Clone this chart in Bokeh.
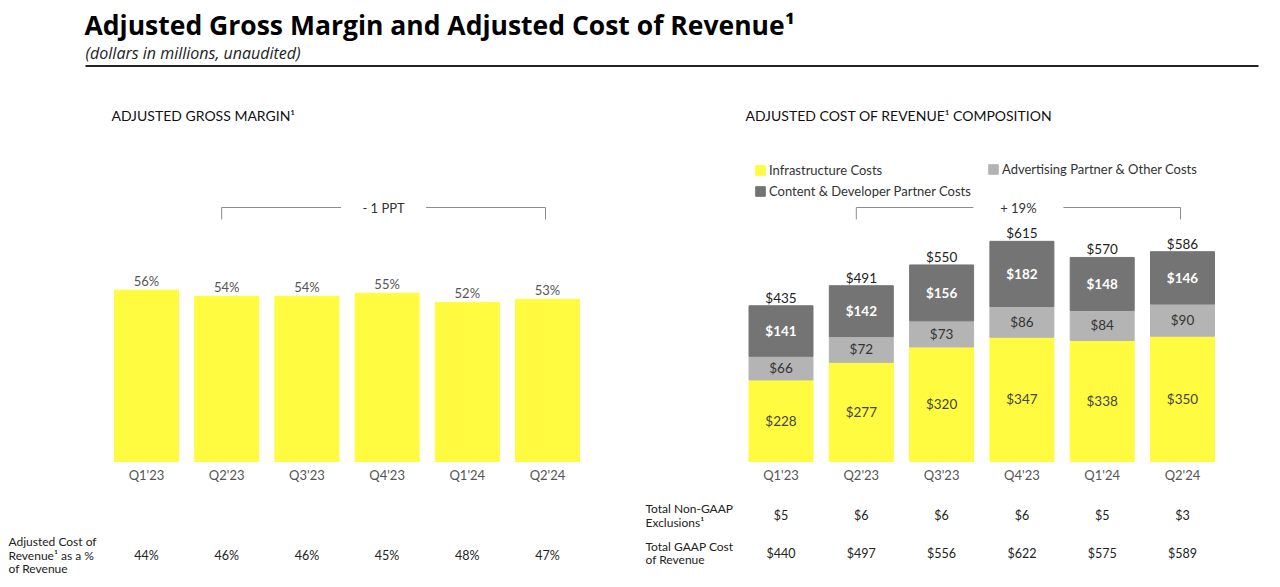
from bokeh.plotting import figure
from bokeh.models import Range1d, Label, Legend, LegendItem, ColumnDataSource
from bokeh.layouts import column, row
from bokeh.embed import file_html
from bokeh.resources import INLINE
from bokeh.core.properties import value

# ---------------- data ----------------
quarters = ["Q1'23", "Q2'23", "Q3'23", "Q4'23", "Q1'24", "Q2'24"]
gross_margin = [56, 54, 54, 55, 52, 53]
cost_pct = [44, 46, 46, 45, 48, 47]
infra = [228, 277, 320, 347, 338, 350]
advertising = [66, 72, 73, 86, 84, 90]
content = [141, 142, 156, 182, 148, 146]
totals = [435, 491, 550, 615, 570, 586]
non_gaap = [5, 6, 6, 6, 5, 3]
gaap_cost = [440, 497, 556, 622, 575, 589]
series_names = ["Infrastructure Costs", "Advertising Partner & Other Costs",
                "Content & Developer Partner Costs"]

# ---------------- style ----------------
FONT = "Lato"
YELLOW = "#FFFB40"
LGREY = "#B4B4B4"
DGREY = "#747474"
H = 517
BASE = 126  # px from panel bottom to bar baseline


def panel(width, c0, step, ppu):
    xs = -c0 / step
    ys = -BASE / ppu
    p = figure(width=width, height=H,
               x_range=Range1d(xs, xs + width / step),
               y_range=Range1d(ys, ys + H / ppu),
               toolbar_location=None, output_backend="svg",
               x_axis_type=None, y_axis_type=None,
               min_border=0, outline_line_color=None)
    p.grid.visible = False
    p.background_fill_color = "white"
    p.border_fill_color = "white"
    return p


def txt(p, x, y, t, size="13px", color="#444", align="center",
        baseline="middle", style="normal"):
    p.text(x=x, y=y, text=t, text_font=value(FONT), text_font_size=size,
           text_color=color, text_align=align, text_baseline=baseline,
           text_font_style=style)


def bracket(p, i0, i1, ppu, step, label, gap_px):
    y = 254 / ppu
    y2 = (254 - 12) / ppu
    xa = i0 - 5 / step
    xb = i1 - 2 / step
    xm = (xa + xb) / 2
    g = gap_px / step
    p.multi_line(xs=[[xa, xa, xm - g], [xm + g, xb, xb]],
                 ys=[[y2, y, y], [y, y, y2]],
                 line_color="#8c8c8c", line_width=1)
    txt(p, [xm], [y], [label], size="13px", color="#333")


def screen_label(p, x, y, text, size="12px", color="#222222", lh=None):
    kw = {}
    if lh is not None:
        kw["text_line_height"] = lh
    p.add_layout(Label(x=x, y=y, x_units="screen", y_units="screen",
                       text=text, text_font=FONT, text_font_size=size,
                       text_color=color, text_baseline="middle", **kw))


# ---------------- top title strip ----------------
top = figure(width=1280, height=70, x_range=Range1d(0, 1280),
             y_range=Range1d(70, 0), toolbar_location=None,
             output_backend="svg", x_axis_type=None, y_axis_type=None,
             min_border=0, outline_line_color=None)
top.grid.visible = False
top.text(x=[84], y=[24],
         text=["Adjusted Gross Margin and Adjusted Cost of Revenue\u00b9"],
         text_font=value("Open Sans"), text_font_size="26.5px",
         text_font_style="bold", text_color="#000000",
         text_baseline="middle")
top.text(x=[85], y=[52], text=["(dollars in millions, unaudited)"],
         text_font=value("Open Sans"), text_font_size="16px",
         text_font_style="italic", text_color="#222222",
         text_baseline="middle")
top.segment(x0=[85], y0=[65.5], x1=[1258], y1=[65.5],
            line_color="#222222", line_width=2)

# ---------------- left panel ----------------
stepL, ppuL = 80.2, 3.06
pL = panel(638, 146, stepL, ppuL)
xL = list(range(len(quarters)))
pL.vbar(x=xL, top=gross_margin, width=64 / stepL, color=YELLOW)
txt(pL, xL, [v + 9.5 / ppuL for v in gross_margin],
    [f"{v}%" for v in gross_margin], color="#555")
txt(pL, xL, [-13 / ppuL] * 6, quarters, color="#555")
bracket(pL, 1, 5, ppuL, stepL, "- 1 PPT", 42.5)
screen_label(pL, 111, 472, "ADJUSTED GROSS MARGIN\u00b9", size="14px",
             color="#111111")
txt(pL, xL, [(-BASE + 32.3) / ppuL] * 6, [f"{v}%" for v in cost_pct],
    size="12.5px", color="#222")
screen_label(pL, 8, 32.3, "Adjusted Cost of\nRevenue\u00b9 as a %\nof Revenue",
             lh=0.9)

# ---------------- right panel ----------------
stepR, ppuR = 80.3, 0.358
pR = panel(642, 142.5, stepR, ppuR)
xR = list(range(len(quarters)))
src = ColumnDataSource(dict(x=xR, infra=infra, adv=advertising, content=content))
rs = pR.vbar_stack(["infra", "adv", "content"], x="x", width=64 / stepR,
                   color=[YELLOW, LGREY, DGREY], source=src)

b1 = [a + b for a, b in zip(infra, advertising)]
txt(pR, xR, [v / 2 for v in infra], [f"${v}" for v in infra],
    size="13.5px", color="#444")
txt(pR, xR, [i + a / 2 for i, a in zip(infra, advertising)],
    [f"${v}" for v in advertising], size="13.5px", color="#333")
txt(pR, xR, [b + c / 2 for b, c in zip(b1, content)],
    [f"${v}" for v in content], size="13.5px", color="#ffffff",
    style="bold")
tops = [b + c for b, c in zip(b1, content)]
txt(pR, xR, [t + 8 / ppuR for t in tops], [f"${v}" for v in totals],
    size="13.5px", color="#222")
txt(pR, xR, [-13 / ppuR] * 6, quarters, color="#555")
bracket(pR, 1, 5, ppuR, stepR, "+ 19%", 45)

screen_label(pR, 107, 472, "ADJUSTED COST OF REVENUE\u00b9 COMPOSITION",
             size="14px", color="#111111")

leg_kw = dict(glyph_width=12, glyph_height=12, label_standoff=3,
              label_height=13, spacing=5, padding=0, margin=0,
              label_text_font=FONT, label_text_font_size="13px",
              label_text_color="#333333", border_line_color=None,
              background_fill_alpha=0)
leg1 = Legend(items=[LegendItem(label=series_names[0], renderers=[rs[0]]),
                     LegendItem(label=series_names[2], renderers=[rs[2]])],
              location=(116, 388.3), **leg_kw)
leg2 = Legend(items=[LegendItem(label=series_names[1], renderers=[rs[1]])],
              location=(349, 410), **leg_kw)
pR.add_layout(leg1)
pR.add_layout(leg2)

ys0 = -BASE / ppuR
txt(pR, xR, [ys0 + 72 / ppuR] * 6, [f"${v}" for v in non_gaap],
    size="12.5px", color="#222")
txt(pR, xR, [ys0 + 34.5 / ppuR] * 6, [f"${v}" for v in gaap_cost],
    size="12.5px", color="#222")
screen_label(pR, 7, 72, "Total Non-GAAP\nExclusions\u00b9", lh=0.88)
screen_label(pR, 7, 34.5, "Total GAAP Cost\nof Revenue", lh=0.88)

layout = column(top, row(pL, pR, spacing=0), spacing=0)
open("out.html", "w").write(file_html(layout, INLINE))
